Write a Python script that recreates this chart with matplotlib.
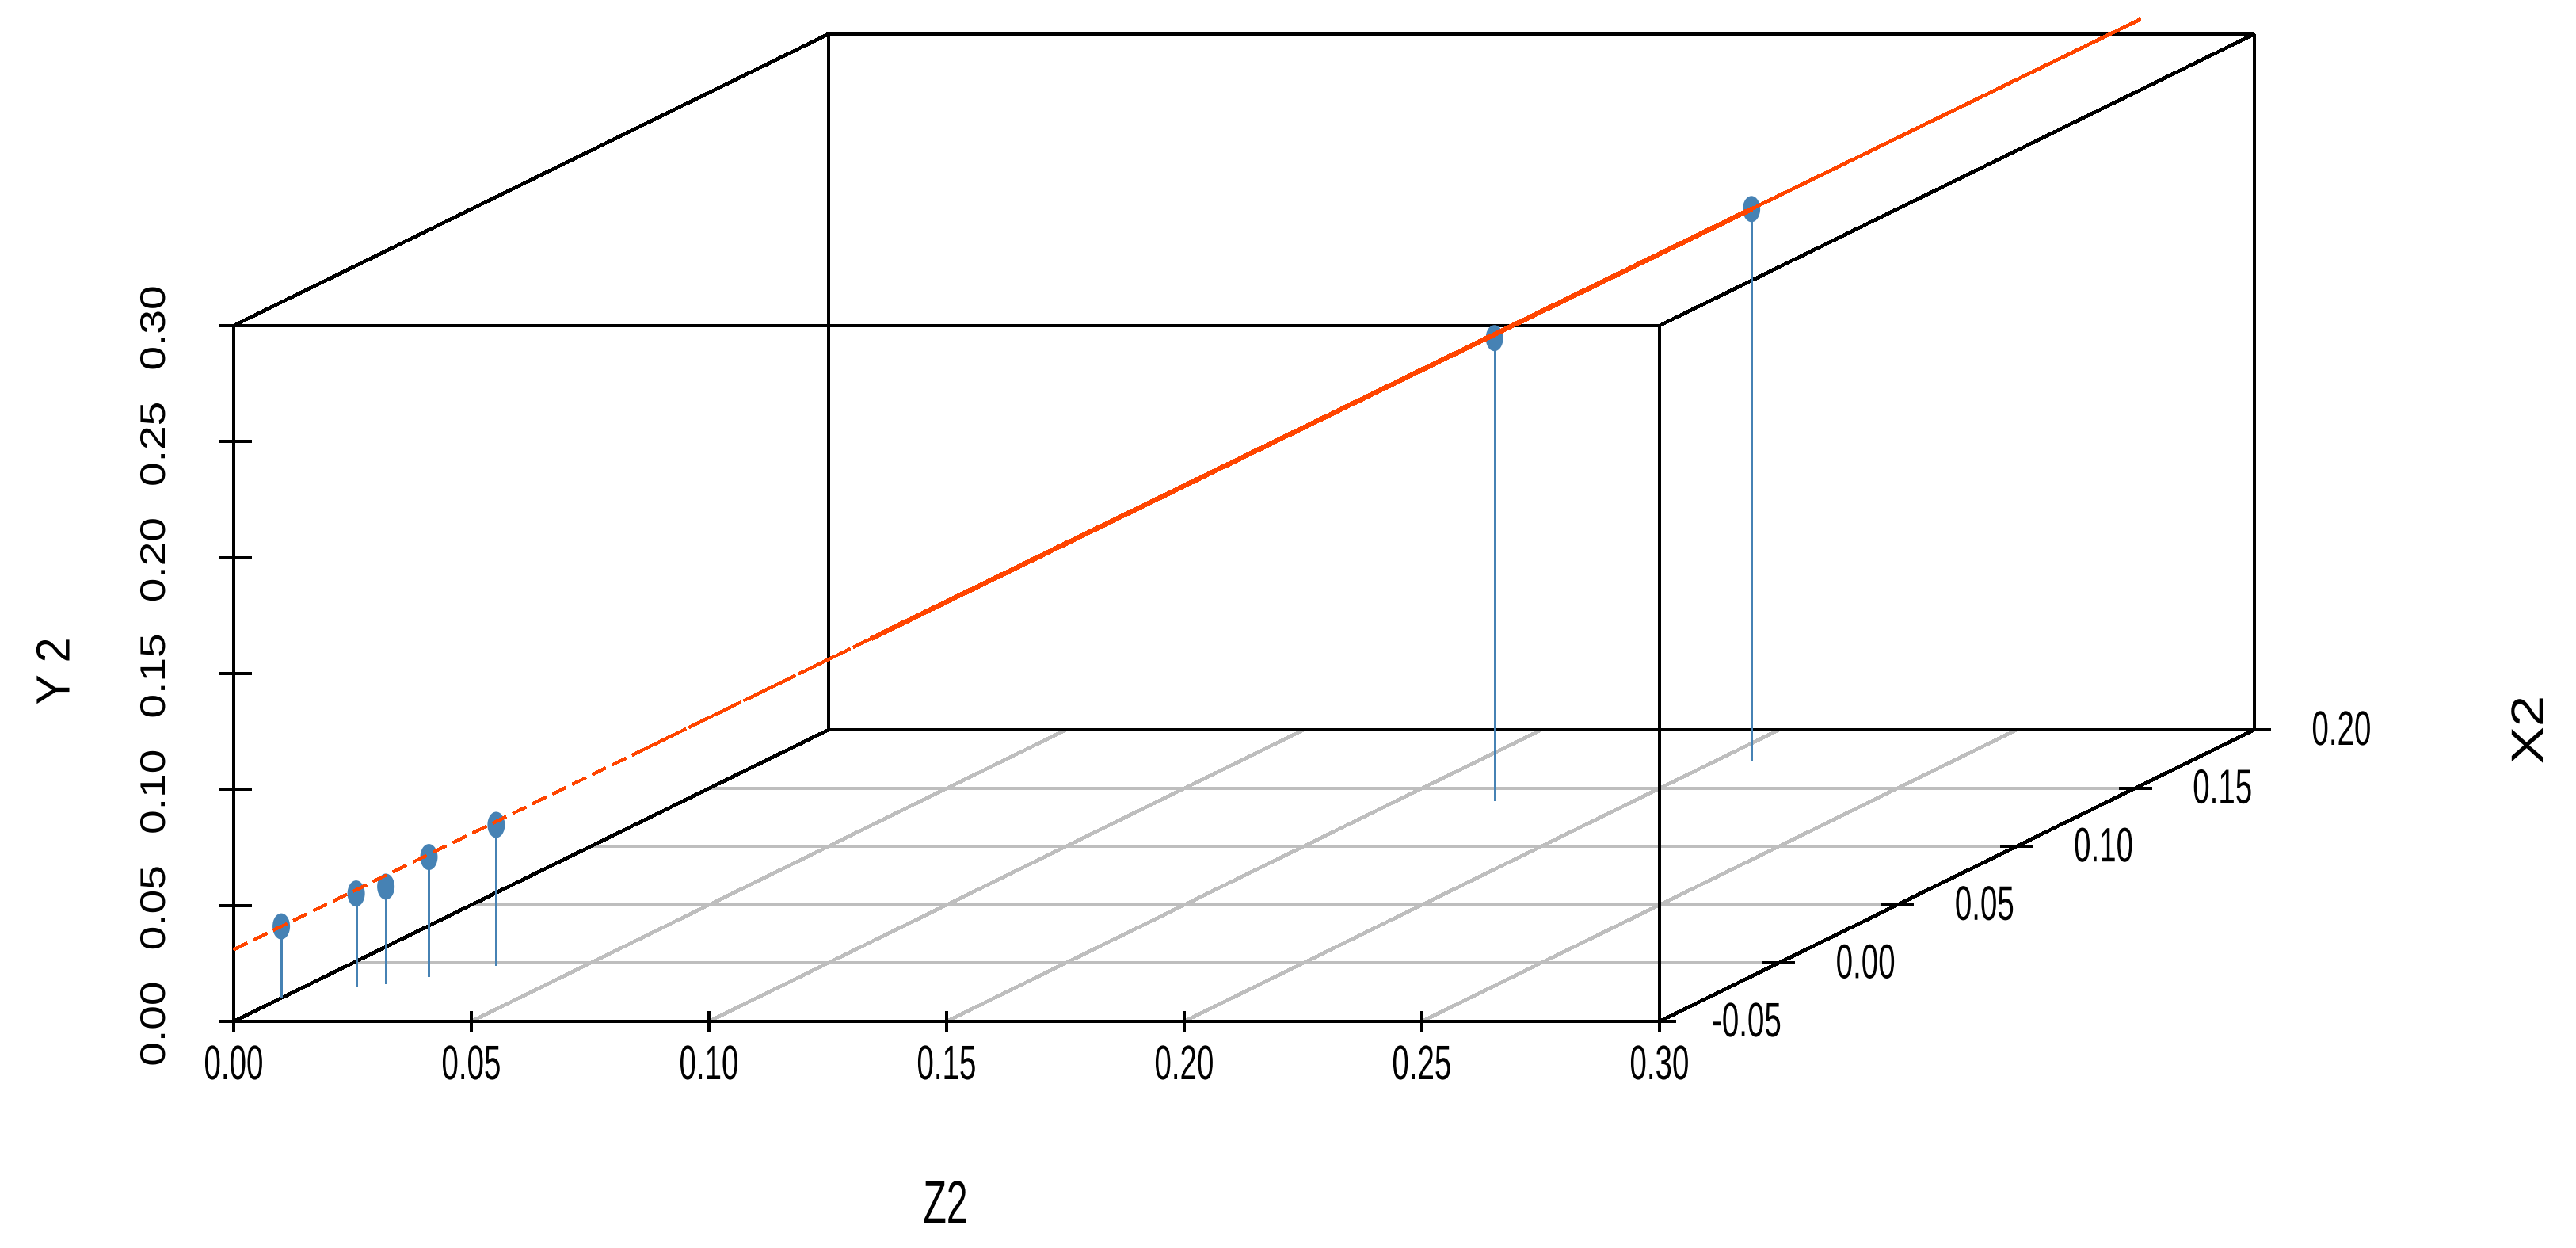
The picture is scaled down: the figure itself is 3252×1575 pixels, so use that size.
import matplotlib
matplotlib.use("Agg")
import matplotlib.pyplot as plt
from matplotlib.patches import Ellipse
from matplotlib.patheffects import AbstractPathEffect
from matplotlib.transforms import Affine2D

plt.rcParams["lines.scale_dashes"] = False
plt.rcParams["font.family"] = ["Liberation Sans", "DejaVu Sans"]

# data
z2_values = [-0.0005, 0.0107, 0.0156, 0.0216, 0.0310, 0.1704, 0.2071]
x2_values = [-0.0290, -0.0199, -0.0172, -0.0111, -0.0016, 0.1395, 0.1742]
y2_values = [0.0304, 0.0400, 0.0416, 0.0513, 0.0604, 0.1993, 0.2375]

# fitted line, read in stretches along its length
line_z2 = [-0.0072, 0.0493, 0.0828, 0.2071, 0.2620]
line_x2 = [-0.0356, 0.0198, 0.0526, 0.1742, 0.2280]
line_y2 = [0.0237, 0.0801, 0.1135, 0.2375, 0.2923]

z2_ticks = [0.00, 0.05, 0.10, 0.15, 0.20, 0.25, 0.30]
x2_ticks = [-0.05, 0.00, 0.05, 0.10, 0.15, 0.20]
y2_ticks = [0.00, 0.05, 0.10, 0.15, 0.20, 0.25, 0.30]

W, H = 3252, 1575
DPI = 100
PX = 72 / DPI


class Stretch(AbstractPathEffect):
    # the reference image was resized unevenly, so its glyphs are squeezed
    def __init__(self, sx, sy, cx, cy):
        super().__init__()
        self.t = Affine2D().translate(-cx, -cy).scale(sx, sy).translate(cx, cy)

    def draw_path(self, renderer, gc, tpath, affine, rgbFace=None):
        renderer.draw_path(gc, tpath, affine + self.t, rgbFace)


def project(z, x, y):
    # oblique projection like scatterplot3d, result in picture pixels
    depth = (x + 0.05) / 0.25
    sx = 295 + z * 6000 + depth * 751
    sy = 1289 - depth * 368 - y * 2927
    return sx, sy


def seg(ax, a, b, color="black", lw=4, **kw):
    p = project(*a)
    q = project(*b)
    ax.plot([p[0], q[0]], [p[1], q[1]], color=color, lw=lw * PX,
            solid_capstyle="butt", antialiased=False, **kw)


def label(ax, px, py, s, size, sx=1.0, sy=1.0, rotation=0):
    cx, cy = ax.transData.transform((px, py))
    t = ax.text(px, py, s, ha="center", va="center_baseline", rotation=rotation,
                rotation_mode="anchor", fontsize=size, color="black")
    t.set_path_effects([Stretch(sx, sy, cx, cy)])


fig = plt.figure(figsize=(W / DPI, H / DPI), dpi=DPI)
ax = fig.add_axes([0, 0, 1, 1])
ax.set_xlim(0, W)
ax.set_ylim(H, 0)
ax.axis("off")

z0, z1 = z2_ticks[0], z2_ticks[-1]
x0, x1 = x2_ticks[0], x2_ticks[-1]
y0, y1 = y2_ticks[0], y2_ticks[-1]

# floor grid
for z in z2_ticks[1:-1]:
    seg(ax, (z, x0, y0), (z, x1, y0), color="#BEBEBE", lw=3.4, zorder=1)
for x in x2_ticks[1:-1]:
    seg(ax, (z0, x, y0), (z1, x, y0), color="#BEBEBE", lw=4, zorder=1)

# box
for a, b in [
    ((z0, x0, y0), (z1, x0, y0)),
    ((z0, x0, y1), (z1, x0, y1)),
    ((z0, x1, y0), (z1, x1, y0)),
    ((z0, x1, y1), (z1, x1, y1)),
    ((z0, x0, y0), (z0, x0, y1)),
    ((z1, x0, y0), (z1, x0, y1)),
    ((z0, x1, y0), (z0, x1, y1)),
    ((z1, x1, y0), (z1, x1, y1)),
]:
    seg(ax, a, b, lw=4, zorder=2)
for a, b in [
    ((z0, x0, y0), (z0, x1, y0)),
    ((z1, x0, y0), (z1, x1, y0)),
    ((z0, x0, y1), (z0, x1, y1)),
    ((z1, x0, y1), (z1, x1, y1)),
]:
    seg(ax, a, b, lw=3.4, zorder=2)

# ticks and tick labels
for z in z2_ticks:
    sx, sy = project(z, x0, y0)
    ax.plot([sx, sx], [sy - 11, sy + 12], color="black", lw=4 * PX, antialiased=False, zorder=2)
    label(ax, sx, sy + 51, f"{z:.2f}", 44, sx=0.63)
for y in y2_ticks:
    sx, sy = project(z0, x0, y)
    ax.plot([sx - 17, sx + 21], [sy, sy], color="black", lw=4 * PX, antialiased=False, zorder=2)
    label(ax, 192, sy + 3, f"{y:.2f}", 32, sy=1.24, rotation=90)
for x in x2_ticks:
    sx, sy = project(z1, x, y0)
    ax.plot([sx - 19, sx + 19], [sy, sy], color="black", lw=4 * PX, antialiased=False, zorder=2)
    label(ax, sx + 110, sy - 3, f"{x:.2f}", 44, sx=0.63)

# axis titles
label(ax, 1193.5, 1516, "Z2", 55, sx=0.63)
label(ax, 66, 847, "Y 2", 43, sy=0.96, rotation=90)
label(ax, 3189, 921, "X2", 41, sy=1.24, rotation=90)

# stems and points
for z, x, y in zip(z2_values, x2_values, y2_values):
    seg(ax, (z, x, y0), (z, x, y), color="#4682B4", lw=3, zorder=3)
    sx, sy = project(z, x, y)
    ax.add_patch(Ellipse((sx, sy), 22, 33, color="#4682B4", lw=0, zorder=4))

# fitted line
line_widths = [3.2, 3.4, 5, 3.4]
line_styles = [(0, (13, 6.5)), (0, (52, 2.9)), "-", "-"]
for i, lw in enumerate(line_widths):
    a = (line_z2[i], line_x2[i], line_y2[i])
    b = (line_z2[i + 1], line_x2[i + 1], line_y2[i + 1])
    seg(ax, a, b, color="#FF4500", lw=lw, zorder=5, linestyle=line_styles[i])

fig.savefig("out.png", dpi=DPI)
